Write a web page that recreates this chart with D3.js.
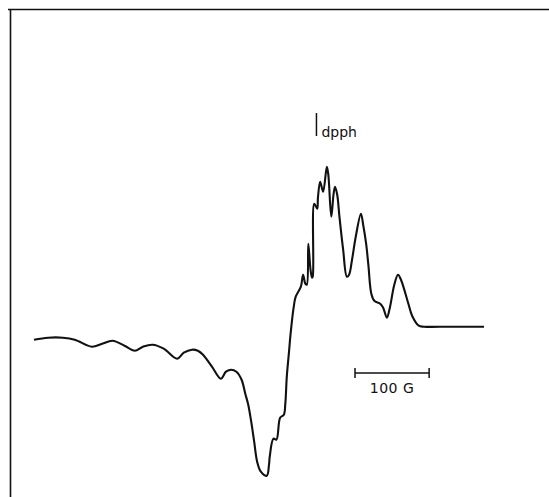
<!DOCTYPE html>
<html>
<head>
<meta charset="utf-8">
<script src="https://cdn.jsdelivr.net/npm/d3@7"></script>
<style>
  body { margin: 0; background: #fff; }
  svg { display: block; }
</style>
</head>
<body>
<div id="chart"></div>
<script>
// EPR derivative trace (field in gauss, signal in arbitrary units)
const field = [0, 19, 39, 55, 78, 92, 106, 122, 136, 147, 160, 175, 193, 202, 213, 221, 228, 240, 252, 259,
  266, 273, 280, 285, 289, 293, 297, 301, 306, 314, 317, 318, 323, 327, 332, 337, 339, 341, 344, 346,
  350, 353, 360, 363, 366, 368, 370, 373, 375, 376, 378, 382, 383, 386, 390, 395, 397, 401, 404, 406,
  409, 412, 417, 422, 425, 429, 434, 441, 444, 448, 451, 455, 459, 467, 471, 476, 480, 486, 491, 495,
  505, 510, 519, 526, 561, 607];
const signal = [-13, -11, -11, -13, -20, -17, -14, -19, -24, -20, -18, -22, -32, -26, -23, -24, -28, -40, -52, -45,
  -43, -45, -53, -67, -78, -95, -115, -135, -145, -149, -138, -130, -112, -113, -91, -88, -77, -50, -25, -8,
  18, 30, 40, 52, 43, 42, 83, 57, 49, 50, 123, 118, 129, 145, 135, 160, 152, 110, 132, 140,
  132, 110, 77, 50, 52, 67, 90, 113, 102, 83, 62, 33, 26, 23, 19, 9, 19, 42, 52, 47,
  23, 11, 1, 0, 0, 0];

const dpphField = 381;
const scaleBar = [433, 533]; // 100 G
const scaleLabel = "100 G";
const dpphLabel = "dpph";

const W = 549, H = 497;

const data = field.map((f, i) => ({ f: f, s: signal[i] }));

const x = d3.scaleLinear().domain([0, 607]).range([34, 484]);
const y = d3.scaleLinear().domain([-150, 160]).range([476.7, 166.7]);

const svg = d3.select("#chart")
  .append("svg")
  .attr("width", W)
  .attr("height", H);

// frame (top and left edges of the scanned page)
svg.append("line")
  .attr("x1", 8).attr("x2", W).attr("y1", 9.5).attr("y2", 9.5)
  .attr("stroke", "#111").attr("stroke-width", 1.6);
svg.append("line")
  .attr("x1", 10.5).attr("x2", 10.5).attr("y1", 9).attr("y2", H)
  .attr("stroke", "#111").attr("stroke-width", 1.6);

// spectrum
const line = d3.line()
  .x((d) => x(d.f))
  .y((d) => y(d.s))
  .curve(d3.curveCatmullRom.alpha(0.5));

svg.append("path")
  .attr("d", line(data))
  .attr("fill", "none")
  .attr("stroke", "#111")
  .attr("stroke-width", 2.1)
  .attr("stroke-linejoin", "round");

// dpph marker
svg.append("line")
  .attr("x1", x(dpphField)).attr("x2", x(dpphField))
  .attr("y1", 113).attr("y2", 136)
  .attr("stroke", "#111").attr("stroke-width", 1.5);
svg.append("text")
  .attr("x", x(dpphField) + 5)
  .attr("y", 137)
  .attr("font-family", "DejaVu Sans, sans-serif")
  .attr("font-size", 14)
  .attr("fill", "#111")
  .text(dpphLabel);

// 100 G scale bar
const barY = 373;
const bar = svg.append("g").attr("stroke", "#111").attr("stroke-width", 1.5);
bar.append("line")
  .attr("x1", x(scaleBar[0])).attr("x2", x(scaleBar[1]))
  .attr("y1", barY).attr("y2", barY);
scaleBar.forEach((f) => {
  bar.append("line")
    .attr("x1", x(f)).attr("x2", x(f))
    .attr("y1", barY - 5).attr("y2", barY + 5);
});
svg.append("text")
  .attr("x", (x(scaleBar[0]) + x(scaleBar[1])) / 2)
  .attr("y", 393)
  .attr("text-anchor", "middle")
  .attr("font-family", "DejaVu Sans, sans-serif")
  .attr("font-size", 14)
  .attr("letter-spacing", 0.5)
  .attr("fill", "#111")
  .text(scaleLabel);
</script>
</body>
</html>
